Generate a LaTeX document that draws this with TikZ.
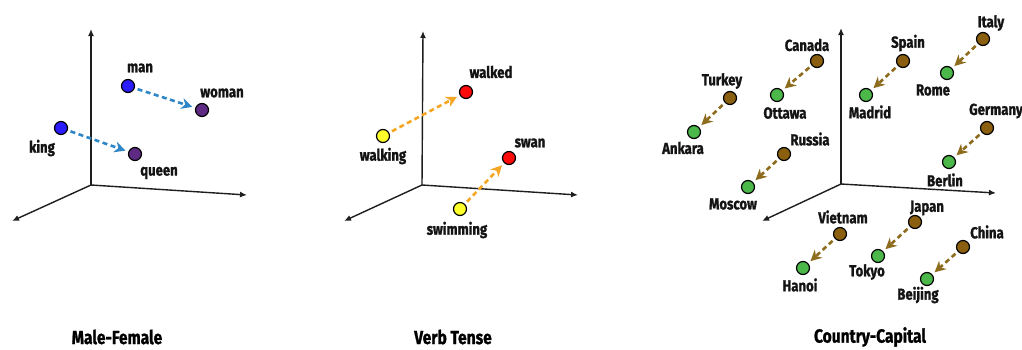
\documentclass[tikz,border=0pt]{standalone}
\usepackage{fontspec}
\setmainfont{Fira Sans}[FakeStretch=0.82, BoldFeatures={FakeBold=1.2}]
\usetikzlibrary{arrows.meta}
\definecolor{axiscol}{HTML}{1E1E1E}
\definecolor{bluept}{HTML}{2B1CFF}
\definecolor{purplept}{HTML}{5E2A84}
\definecolor{bluearr}{HTML}{2F86C6}
\definecolor{yellowpt}{HTML}{FFFF2A}
\definecolor{redpt}{HTML}{FF0A0A}
\definecolor{orangearr}{HTML}{F5A623}
\definecolor{brownpt}{HTML}{8A5F0F}
\definecolor{greenpt}{HTML}{4CB84A}
\definecolor{brownarr}{HTML}{8E6C1E}
\tikzset{
  axis/.style={draw=axiscol, line width=1.4pt, -{Latex[length=7pt,width=6pt]}},
  pt/.style={circle, draw=black, line width=1.2pt, minimum size=13pt, inner sep=0pt},
  lbl/.style={font=\bfseries\fontsize{16}{18}\selectfont, text=black!92, inner sep=0pt},
  ttl/.style={font=\bfseries\fontsize{19}{21}\selectfont, text=black, inner sep=0pt},
  vec/.style={line width=2.6pt, dash pattern=on 5pt off 3.5pt, -{Stealth[length=11pt,width=11pt,inset=3.5pt]}, shorten <=3pt, shorten >=3pt}
}
\begin{document}
\begin{tikzpicture}[x=1pt,y=-1pt]
\useasboundingbox (0,0) rectangle (1022,349);
\fill[white] (0,0) rectangle (1022,349);

% ---------- Panel 1: Male-Female ----------
\coordinate (o1) at (91,185);
\coordinate (u1) at (91,29);
\coordinate (r1) at (247,195);
\coordinate (l1) at (12,221);
\draw[axis] (o1) -- (u1);
\draw[axis] (o1) -- (r1);
\draw[axis] (o1) -- (l1);
\node[pt, fill=bluept] (man) at (128,86) {};
\node[pt, fill=purplept] (woman) at (202,110) {};
\node[pt, fill=bluept] (king) at (61,128) {};
\node[pt, fill=purplept] (queen) at (135,154) {};
\draw[vec, bluearr] (man) -- (woman);
\draw[vec, bluearr] (king) -- (queen);
\node[lbl] (lman) at (140,68) {man};
\node[lbl] (lwoman) at (222,93) {woman};
\node[lbl] (lking) at (42,148) {king};
\node[lbl] (lqueen) at (159,173) {queen};
\node[ttl] (t1) at (117,337) {Male-Female};

% ---------- Panel 2: Verb Tense ----------
\coordinate (o2) at (422,185);
\coordinate (u2) at (423,31);
\coordinate (r2) at (578,195);
\coordinate (l2) at (344,221);
\draw[axis] (o2) -- (u2);
\draw[axis] (o2) -- (r2);
\draw[axis] (o2) -- (l2);
\node[pt, fill=redpt] (walked) at (466,92) {};
\node[pt, fill=yellowpt] (walking) at (383,136) {};
\node[pt, fill=redpt] (swan) at (509,158) {};
\node[pt, fill=yellowpt] (swimming) at (460,209) {};
\draw[vec, orangearr] (walking) -- (walked);
\draw[vec, orangearr] (swimming) -- (swan);
\node[lbl] (lwalked) at (491,72) {walked};
\node[lbl] (lwalking) at (383,156) {walking};
\node[lbl] (lswan) at (530,143) {swan};
\node[lbl] (lswimming) at (457,230) {swimming};
\node[ttl] (t2) at (453,337) {Verb Tense};

% ---------- Panel 3: Country-Capital ----------
\coordinate (o3) at (841,184);
\coordinate (u3) at (841,28);
\coordinate (r3) at (996,193);
\coordinate (l3) at (762,221);
\draw[axis] (o3) -- (u3);
\draw[axis] (o3) -- (r3);
\draw[axis] (o3) -- (l3);
\node[pt, fill=brownpt] (turkey) at (730,98) {};
\node[pt, fill=greenpt] (ankara) at (694,132) {};
\node[pt, fill=brownpt] (canada) at (817,61) {};
\node[pt, fill=greenpt] (ottawa) at (777,95) {};
\node[pt, fill=brownpt] (spain) at (903,61) {};
\node[pt, fill=greenpt] (madrid) at (866,95) {};
\node[pt, fill=brownpt] (italy) at (983,39) {};
\node[pt, fill=greenpt] (rome) at (947,73) {};
\node[pt, fill=brownpt] (germany) at (987,128) {};
\node[pt, fill=greenpt] (berlin) at (949,162) {};
\node[pt, fill=brownpt] (russia) at (784,154) {};
\node[pt, fill=greenpt] (moscow) at (748,187) {};
\node[pt, fill=brownpt] (vietnam) at (840,234) {};
\node[pt, fill=greenpt] (hanoi) at (803,268) {};
\node[pt, fill=brownpt] (japan) at (915,222) {};
\node[pt, fill=greenpt] (tokyo) at (878,256) {};
\node[pt, fill=brownpt] (china) at (963,247) {};
\node[pt, fill=greenpt] (beijing) at (927,279) {};
\foreach \a/\b in {turkey/ankara, canada/ottawa, spain/madrid, italy/rome, germany/berlin, russia/moscow, vietnam/hanoi, japan/tokyo, china/beijing}
  \draw[vec, brownarr] (\a) -- (\b);
\node[lbl] (lturkey) at (722,81) {Turkey};
\node[lbl] (lankara) at (683,148) {Ankara};
\node[lbl] (lcanada) at (807,45) {Canada};
\node[lbl] (lottawa) at (785,113) {Ottawa};
\node[lbl] (lspain) at (908,43) {Spain};
\node[lbl] (lmadrid) at (870,112) {Madrid};
\node[lbl] (litaly) at (991,23) {Italy};
\node[lbl] (lrome) at (933,90) {Rome};
\node[lbl] (lgermany) at (996,111) {Germany};
\node[lbl] (lberlin) at (945,180) {Berlin};
\node[lbl] (lrussia) at (810,139) {Russia};
\node[lbl] (lmoscow) at (733,204) {Moscow};
\node[lbl] (lvietnam) at (843,217) {Vietnam};
\node[lbl] (lhanoi) at (800,285) {Hanoi};
\node[lbl] (ljapan) at (927,208) {Japan};
\node[lbl] (ltokyo) at (867,272) {Tokyo};
\node[lbl] (lchina) at (987,232) {China};
\node[lbl] (lbeijing) at (918,295) {Beijing};
\node[ttl] (t3) at (870,337) {Country-Capital};
\end{tikzpicture}
\end{document}
